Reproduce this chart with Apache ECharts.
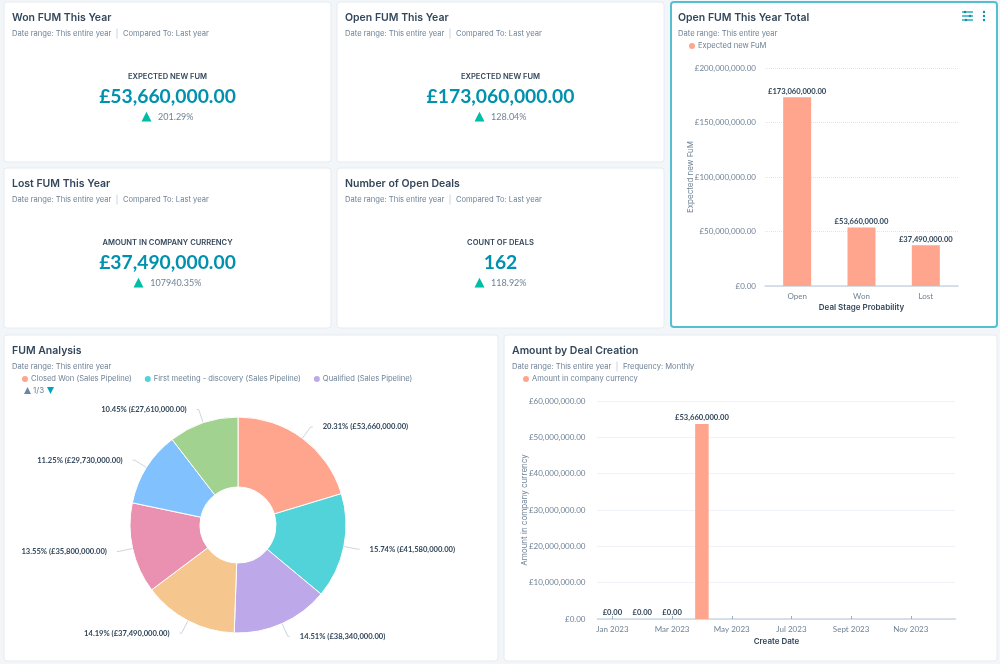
<!DOCTYPE html>
<html>
<head>
<meta charset="utf-8">
<style>
  html, body { margin: 0; padding: 0; background: #f3f6f9; }
  #main { width: 1000px; height: 664px; }
</style>
<script src="https://cdn.jsdelivr.net/npm/echarts@6/dist/echarts.min.js"></script>
</head>
<body>
<div id="main"></div>
<script>
// stage chart
const stageCategories = ['Open', 'Won', 'Lost'];
const stageValues = [173060000, 53660000, 37490000];
const stageTicks = [0, 50000000, 100000000, 150000000, 200000000];

// deal creation chart
const monthCategories = ['Jan 2023', 'Feb 2023', 'Mar 2023', 'Apr 2023', 'May 2023', 'Jun 2023', 'Jul 2023', 'Aug 2023', 'Sept 2023', 'Oct 2023', 'Nov 2023', 'Dec 2023'];
const monthValues = [0, 0, 0, 53660000, null, null, null, null, null, null, null, null];

// pie chart, only the first three names are readable in the legend
const pieNames = ['Closed Won (Sales Pipeline)', 'First meeting - discovery (Sales Pipeline)', 'Qualified (Sales Pipeline)', 'Stage 4', 'Stage 5', 'Stage 6', 'Stage 7'];
const pieValues = [53660000, 41580000, 38340000, 37490000, 35800000, 29730000, 27610000];
const pieColors = ['#ffa58e', '#51d3d9', '#bda9ea', '#f5c78e', '#ea90b1', '#81c1fd', '#a2d28f'];

// kpi cards
const kpiTitles = ['Won FUM This Year', 'Open FUM This Year', 'Lost FUM This Year', 'Number of Open Deals'];
const kpiLabels = ['EXPECTED NEW FUM', 'EXPECTED NEW FUM', 'AMOUNT IN COMPANY CURRENCY', 'COUNT OF DEALS'];
const kpiValues = ['£53,660,000.00', '£173,060,000.00', '£37,490,000.00', '162'];
const kpiChanges = ['201.29%', '128.04%', '107940.35%', '118.92%'];

const FONT = 'Inter, "Noto Sans", sans-serif';
const NUM_FONT = 'Lato, "Noto Sans", sans-serif';
const DARK = '#33475b';
const GREY = '#6f8296';
const TEAL = '#0091ae';
const BAR = '#ffa58e';

const money = (v) => '£' + Number(v).toLocaleString('en-GB', { minimumFractionDigits: 2, maximumFractionDigits: 2 });

function text(x, y, str, size, color, weight, align, font) {
  return {
    type: 'text', x, y, z: 5,
    style: { text: str, fontFamily: font || FONT, fontSize: size, fill: color, fontWeight: weight || 400, align: align || 'left', verticalAlign: 'middle' }
  };
}
function card(x, y, w, h, active) {
  return {
    type: 'rect', z: -1,
    shape: { x, y, width: w, height: h, r: 3 },
    style: { fill: '#fff', stroke: active ? '#55bfd2' : '#e6ebf1', lineWidth: active ? 2 : 1 }
  };
}
function sep(x, y) {
  return { type: 'line', z: 5, shape: { x1: x, y1: y - 5, x2: x, y2: y + 5 }, style: { stroke: '#cbd6e2', lineWidth: 1 } };
}
function hline(x1, x2, y, color) {
  return { type: 'line', z: 5, shape: { x1, y1: y, x2, y2: y }, style: { stroke: color, lineWidth: 1.2 } };
}
function dot(x, y, color) {
  return { type: 'circle', z: 5, shape: { cx: x, cy: y, r: 1.2 }, style: { fill: color } };
}
function tri(x, y, up, color) {
  const pts = up ? [[x - 3.5, y + 3.5], [x + 3.5, y + 3.5], [x, y - 3.5]] : [[x - 3.5, y - 3.5], [x + 3.5, y - 3.5], [x, y + 3.5]];
  return { type: 'polygon', z: 5, shape: { points: pts }, style: { fill: color } };
}
// y axis titles, the axis name option would not sit this close to the tick labels
function yTitle(x, y, str) {
  const t = text(x, y, str, 8, GREY, 400, 'center');
  t.rotation = Math.PI / 2;
  return t;
}

const elements = [];
const kpiBoxes = [[4, 2], [337, 2], [4, 168], [337, 168]];
kpiBoxes.forEach((b, i) => {
  const [x, y] = b;
  const cx = x + 163.5;
  elements.push(card(x, y, 327, 160));
  elements.push(text(x + 8, y + 15.5, kpiTitles[i], 10.5, DARK, 600));
  elements.push(text(x + 8, y + 32, 'Date range: This entire year', 7.6, GREY));
  elements.push(sep(x + 113, y + 31.5));
  elements.push(text(x + 119, y + 32, 'Compared To: Last year', 7.6, GREY));
  elements.push(text(cx, y + 75, kpiLabels[i], 7.6, DARK, 600, 'center'));
  elements.push(text(cx, y + 95, kpiValues[i], 19.3, TEAL, 700, 'center', NUM_FONT));
  elements.push({
    type: 'text', x: cx, y: y + 115, z: 5,
    style: {
      text: '{a|▲}  {b|' + kpiChanges[i] + '}', align: 'center', verticalAlign: 'middle',
      rich: {
        a: { fontSize: 13, fill: '#00bda5', fontFamily: 'DejaVu Sans' },
        b: { fontSize: 9, fill: GREY, fontFamily: NUM_FONT }
      }
    }
  });
});

elements.push(card(671, 2, 326, 325, true));
elements.push(text(678, 17.5, 'Open FUM This Year Total', 10.5, DARK, 600));
elements.push(text(678, 34, 'Date range: This entire year', 7.6, GREY));
elements.push(yTitle(691, 177, 'Expected new FuM'));
// settings + menu icons
elements.push(hline(962, 973, 12, TEAL), hline(962, 973, 16, TEAL), hline(962, 973, 20, TEAL));
elements.push(dot(965, 12, TEAL), dot(970, 16, TEAL), dot(966, 20, TEAL));
elements.push(dot(984, 12, TEAL), dot(984, 16, TEAL), dot(984, 20, TEAL));

elements.push(card(4, 335, 494, 326));
elements.push(text(12, 350.5, 'FUM Analysis', 10.5, DARK, 600));
elements.push(text(12, 367, 'Date range: This entire year', 7.6, GREY));
elements.push(tri(27.5, 390.5, true, '#6a86a6'));
elements.push(text(33, 391, '1/3', 8, GREY));
elements.push(tri(50.5, 390.5, false, '#00a4bd'));

elements.push(card(504, 335, 493, 326));
elements.push(text(512, 350.5, 'Amount by Deal Creation', 10.5, DARK, 600));
elements.push(text(512, 367, 'Date range: This entire year', 7.6, GREY));
elements.push(sep(617, 366.5));
elements.push(text(623, 367, 'Frequency: Monthly', 7.6, GREY));
elements.push(yTitle(525, 510, 'Amount in company currency'));

const axisLabel = { color: GREY, fontFamily: NUM_FONT, fontSize: 8 };
const legendBase = { icon: 'circle', itemWidth: 6, itemHeight: 6, itemStyle: { borderWidth: 0 }, textStyle: { color: GREY, fontFamily: FONT, fontSize: 7.6, padding: [0, 0, 0, -2] } };
const barLabel = { show: true, position: 'top', distance: 2, color: DARK, fontFamily: NUM_FONT, fontSize: 7.6, fontWeight: 700, formatter: (p) => money(p.value) };

const option = {
  backgroundColor: '#f3f6f9',
  animation: false,
  graphic: { elements },
  legend: [
    Object.assign({}, legendBase, { data: ['Expected new FuM'], left: 684, top: 37 }),
    Object.assign({}, legendBase, { data: pieNames.slice(0, 3), left: 17, top: 370, itemGap: 13 }),
    Object.assign({}, legendBase, { data: ['Amount in company currency'], left: 518, top: 370 })
  ],
  grid: [
    { left: 765, top: 68, width: 193, height: 218 },
    { left: 597.5, top: 401, width: 358, height: 218 }
  ],
  xAxis: [
    {
      type: 'category', gridIndex: 0, data: stageCategories,
      axisLine: { lineStyle: { color: '#cbd6e2', width: 1.5 } }, axisTick: { show: false },
      axisLabel: Object.assign({}, axisLabel, { margin: 6 }),
      name: 'Deal Stage Probability', nameLocation: 'middle', nameGap: 18,
      nameTextStyle: { color: DARK, fontFamily: FONT, fontSize: 8, fontWeight: 600 }
    },
    {
      type: 'category', gridIndex: 1, data: monthCategories,
      axisLine: { lineStyle: { color: '#cbd6e2', width: 1.5 } },
      axisTick: { show: true, inside: true, alignWithLabel: true, interval: 1, length: 3, lineStyle: { color: '#99acc2' } },
      axisLabel: Object.assign({}, axisLabel, { margin: 6, interval: 1 }),
      name: 'Create Date', nameLocation: 'middle', nameGap: 19,
      nameTextStyle: { color: DARK, fontFamily: FONT, fontSize: 8, fontWeight: 600 }
    }
  ],
  yAxis: [
    {
      type: 'value', gridIndex: 0, min: 0, max: stageTicks[stageTicks.length - 1], interval: 50000000,
      axisLine: { show: false }, axisTick: { show: false },
      splitLine: { lineStyle: { color: '#dfe5ec', type: 'dotted' } },
      axisLabel: Object.assign({}, axisLabel, { margin: 9, formatter: (v) => money(v) })
    },
    {
      type: 'value', gridIndex: 1, min: 0, max: 60000000, interval: 10000000,
      axisLine: { show: false }, axisTick: { show: false },
      splitLine: { lineStyle: { color: '#dfe5ec', type: 'dotted' } },
      axisLabel: Object.assign({}, axisLabel, { margin: 12, formatter: (v) => money(v) })
    }
  ],
  series: [
    {
      name: 'Expected new FuM', type: 'bar', xAxisIndex: 0, yAxisIndex: 0, data: stageValues,
      barWidth: 28, itemStyle: { color: BAR }, label: barLabel
    },
    {
      name: 'Amount in company currency', type: 'bar', xAxisIndex: 1, yAxisIndex: 1, data: monthValues,
      barWidth: 13.5, itemStyle: { color: BAR }, label: barLabel
    },
    {
      type: 'pie', center: [238, 525], radius: [38, 108], startAngle: 90, clockwise: true,
      percentPrecision: 2, minShowLabelAngle: 0, avoidLabelOverlap: false,
      data: pieNames.map((name, i) => ({ name, value: pieValues[i], itemStyle: { color: pieColors[i] } })),
      itemStyle: { borderColor: '#fff', borderWidth: 1 },
      label: {
        color: DARK, fontFamily: NUM_FONT, fontSize: 7.6, fontWeight: 700, distanceToLabelLine: 10,
        formatter: (p) => p.percent.toFixed(2) + '% (' + money(p.value) + ')'
      },
      labelLine: { length: 14, length2: 2, lineStyle: { color: '#cbd6e2', width: 1 } }
    }
  ]
};

const myChart = echarts.init(document.getElementById('main'));
myChart.setOption(option);
</script>
</body>
</html>
